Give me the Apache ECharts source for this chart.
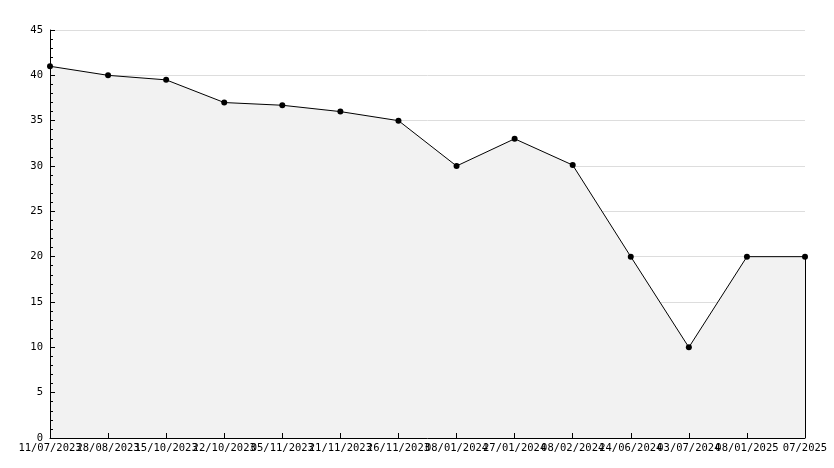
<!DOCTYPE html>
<html><head><meta charset="utf-8">
<script src="https://cdn.jsdelivr.net/npm/echarts@6/dist/echarts.min.js"></script>
<style>html,body{margin:0;padding:0;background:#fff}#c{width:834px;height:468px}</style>
</head><body><div id="c"></div>
<script>
const categories = ["11/07/2023","28/08/2023","15/10/2023","22/10/2023","05/11/2023","21/11/2023","26/11/2023","08/01/2024","27/01/2024","08/02/2024","24/06/2024","03/07/2024","08/01/2025","07/2025"];
const values = [41, 40, 39.5, 37, 36.7, 36, 35, 30, 33, 30.1, 20, 10, 20, 20];
const yTicks = {min: 0, max: 45, interval: 5, minorInterval: 1};

const chart = echarts.init(document.getElementById('c'), null, {renderer: 'canvas'});
const font = 'DejaVu Sans Mono';
chart.setOption({
  animation: false,
  grid: {left: 50, right: 29, top: 30, bottom: 30, containLabel: false},
  xAxis: {
    type: 'category', data: categories, boundaryGap: false, z: 10,
    axisLine: {lineStyle: {color: '#000', width: 1}},
    axisTick: {inside: true, length: 5, alignWithLabel: true, lineStyle: {color: '#000'}},
    axisLabel: {interval: 0, hideOverlap: false, color: '#000', fontFamily: font, fontSize: 10.5, margin: 5},
    splitLine: {show: false}
  },
  yAxis: [{
    type: 'value', min: yTicks.min, max: yTicks.max, interval: yTicks.interval, z: 10,
    axisLine: {show: true, lineStyle: {color: '#000', width: 1}},
    axisTick: {show: true, inside: true, length: 5, lineStyle: {color: '#000'}},
    axisLabel: {color: '#000', fontFamily: font, fontSize: 10.5, margin: 7},
    splitLine: {show: false}
  }, {
    type: 'value', position: 'left', offset: 0, min: yTicks.min, max: yTicks.max, interval: yTicks.minorInterval, z: 10,
    axisLine: {show: false},
    axisTick: {show: true, inside: true, length: 3, lineStyle: {color: '#000'}},
    axisLabel: {show: false},
    splitLine: {show: false}
  }, {
    type: 'value', position: 'left', offset: 0, min: yTicks.min, max: yTicks.max, interval: yTicks.interval, z: 0,
    axisLine: {show: false}, axisTick: {show: false}, axisLabel: {show: false},
    splitLine: {show: true, lineStyle: {color: '#dddddd', width: 1}}
  }],
  series: [{
    type: 'line', data: values,
    lineStyle: {color: '#000', width: 1},
    itemStyle: {color: '#000'},
    symbol: 'circle', symbolSize: 6,
    areaStyle: {color: '#f2f2f2', opacity: 1},
    markLine: {
      silent: true, symbol: ['none','none'], label: {show: false},
      lineStyle: {color: '#000', type: 'solid', width: 1},
      data: [[{coord: [categories.length - 1, values[values.length - 1]]}, {coord: [categories.length - 1, 0]}]]
    }
  }]
});
</script></body></html>
